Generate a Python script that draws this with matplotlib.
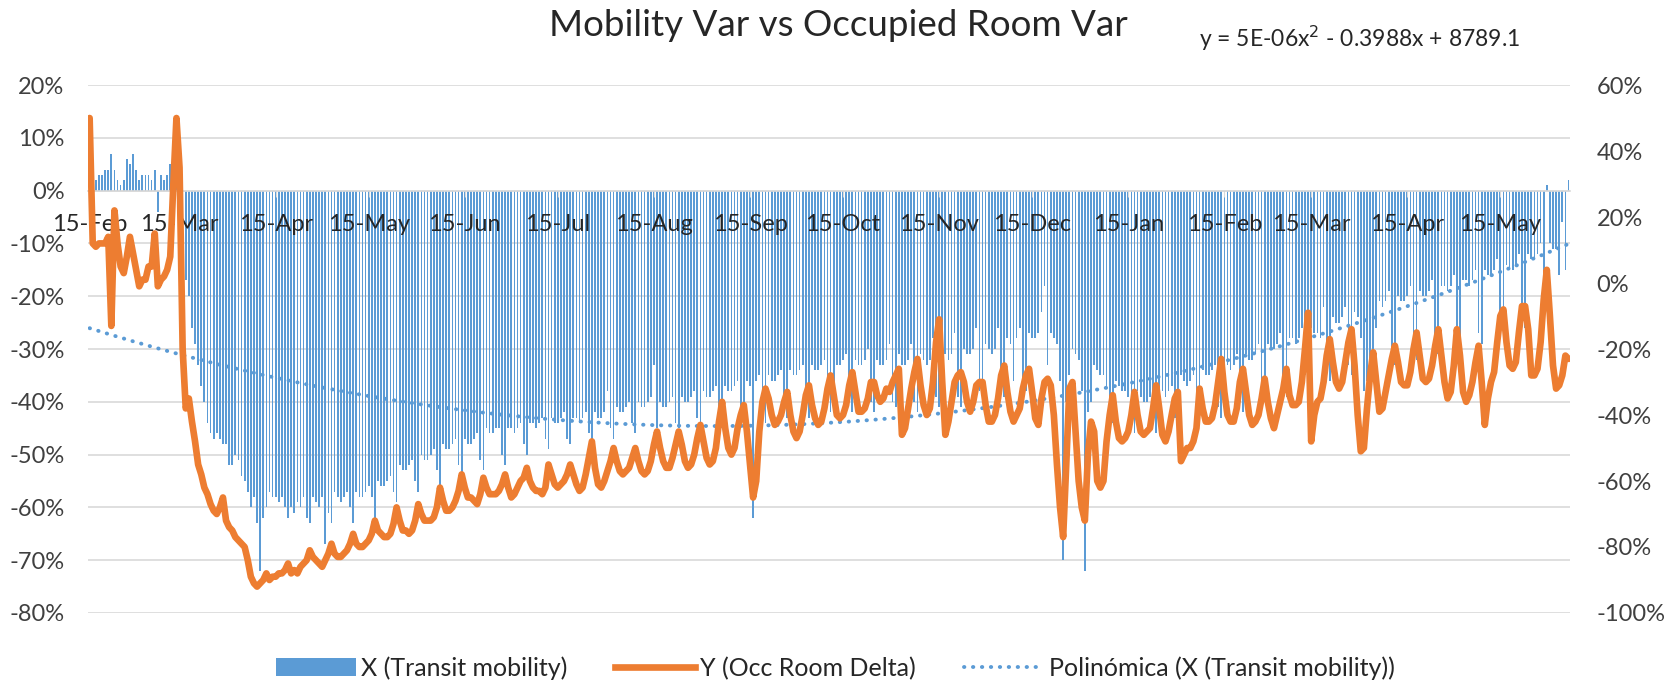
import matplotlib
matplotlib.use("Agg")
import matplotlib.pyplot as plt
import numpy as np
import pandas as pd
from matplotlib.patches import Patch
from matplotlib.lines import Line2D

plt.rcParams['font.family'] = ['Lato', 'DejaVu Sans']

# daily series, starting Saturday 15-Feb-2020 (one row = one week)
# X: transit mobility (% vs baseline), left axis
mobility = [
    [3, 5, 2, 3, 3, 4, 4], [7, 4, 2, 1, 2, 6, 5], [7, 4, 2, 3, 3, 3, 2], [4, -4, 3, 2, 3, 5, 4],
    [3, -2, -8, -17, -20, -26, -29], [-33, -37, -40, -44, -46, -47, -46],
    [-47, -48, -48, -52, -52, -50, -51], [-54, -55, -57, -60, -58, -63, -72],
    [-62, -60, -57, -58, -58, -59, -58], [-60, -62, -60, -61, -59, -60, -58],
    [-62, -63, -58, -59, -60, -58, -67], [-61, -63, -57, -58, -59, -58, -57],
    [-60, -63, -57, -58, -58, -57, -56], [-58, -62, -55, -56, -56, -55, -54],
    [-57, -59, -52, -53, -53, -52, -51], [-55, -57, -50, -51, -51, -50, -49],
    [-53, -56, -48, -49, -49, -48, -47], [-52, -55, -47, -48, -48, -47, -46],
    [-51, -53, -45, -46, -46, -45, -45], [-50, -52, -45, -45, -46, -45, -44],
    [-48, -50, -44, -44, -45, -44, -43], [-47, -49, -43, -44, -44, -43, -42],
    [-47, -48, -43, -43, -44, -43, -42], [-46, -48, -42, -43, -43, -42, -38],
    [-45, -47, -41, -42, -42, -41, -40], [-44, -46, -40, -41, -41, -40, -39],
    [-33, -45, -40, -41, -41, -40, -39], [-44, -45, -39, -40, -40, -39, -38],
    [-43, -45, -38, -39, -39, -38, -37], [-43, -45, -37, -38, -38, -37, -36],
    [-42, -44, -36, -37, -62, -36, -35], [-42, -44, -35, -36, -36, -35, -34],
    [-41, -43, -34, -35, -35, -34, -33], [-41, -43, -33, -34, -34, -33, -32],
    [-41, -42, -40, -33, -33, -32, -31], [-40, -42, -32, -33, -33, -32, -30],
    [-40, -42, -32, -33, -33, -32, -29], [-40, -41, -31, -33, -33, -32, -29],
    [-40, -42, -31, -32, -33, -32, -28], [-39, -41, -30, -31, -32, -31, -27],
    [-39, -41, -30, -31, -31, -30, -26], [-38, -40, -29, -30, -31, -30, -26],
    [-37, -39, -28, -29, -36, -28, -26], [-36, -38, -27, -28, -28, -27, -23],
    [-18, -33, -27, -28, -29, -36, -70], [-40, -35, -30, -31, -32, -38, -72],
    [-42, -40, -33, -34, -35, -35, -37], [-42, -44, -36, -37, -38, -38, -39],
    [-44, -46, -38, -39, -40, -40, -39], [-44, -46, -37, -38, -39, -38, -37],
    [-43, -45, -35, -36, -37, -36, -35], [-42, -44, -34, -35, -35, -34, -33],
    [-41, -43, -33, -33, -34, -33, -31], [-40, -42, -31, -32, -32, -31, -29],
    [-38, -40, -29, -30, -30, -29, -27], [-37, -39, -28, -28, -29, -28, -26],
    [-35, -37, -26, -27, -27, -28, -22], [-34, -36, -24, -25, -25, -24, -22],
    [-33, -35, -23, -24, -28, -38, -36], [-32, -34, -26, -21, -22, -21, -19],
    [-31, -33, -20, -21, -21, -20, -18], [-30, -32, -19, -20, -20, -19, -17],
    [-29, -31, -18, -18, -19, -18, -16], [-28, -30, -17, -17, -18, -17, -15],
    [-27, -29, -15, -16, -16, -15, -13], [-26, -28, -14, -15, -15, -14, -12],
    [-24, -26, -12, -13, -13, -12, -10], [-22, 1, -10, -11, -11, -16, -6],
    [-15, 2],
]

# Y: occupied room delta (%), right axis
occ_delta = [
    [50, 12, 11, 12, 12, 12, 14], [-13, 22, 12, 5, 3, 8, 14], [9, 4, -1, 1, 1, 5, 5],
    [15, -1, 1, 2, 4, 8, 30], [50, 35, -20, -38, -35, -42, -48],
    [-55, -58, -62, -64, -67, -69, -70], [-68, -65, -72, -74, -75, -77, -78],
    [-79, -80, -84, -89, -91, -92, -91], [-90, -88, -90, -89, -89, -88, -88],
    [-87, -85, -88, -87, -88, -86, -85], [-84, -81, -83, -84, -85, -86, -84],
    [-82, -79, -82, -83, -83, -82, -81], [-79, -76, -79, -80, -80, -79, -78],
    [-76, -72, -75, -76, -77, -77, -76], [-73, -68, -72, -75, -75, -76, -75],
    [-72, -67, -70, -72, -72, -72, -71], [-68, -62, -66, -69, -69, -68, -66],
    [-63, -58, -62, -65, -65, -66, -67], [-64, -59, -62, -64, -64, -64, -63],
    [-61, -58, -62, -65, -64, -62, -60], [-59, -56, -60, -62, -63, -63, -64],
    [-62, -55, -58, -61, -62, -61, -60], [-58, -55, -58, -61, -63, -62, -58],
    [-53, -48, -56, -61, -62, -60, -57], [-54, -50, -54, -57, -58, -57, -56],
    [-53, -50, -54, -57, -58, -57, -54], [-49, -45, -50, -54, -56, -56, -53],
    [-49, -45, -49, -54, -56, -55, -52], [-47, -43, -48, -53, -55, -54, -50],
    [-42, -36, -44, -50, -52, -50, -44], [-40, -37, -45, -55, -65, -60, -45],
    [-36, -32, -35, -40, -43, -42, -40], [-36, -33, -40, -45, -47, -45, -40],
    [-34, -31, -37, -41, -43, -42, -38], [-32, -28, -34, -40, -41, -40, -37],
    [-31, -27, -33, -39, -39, -38, -35], [-30, -30, -34, -36, -35, -32, -33],
    [-30, -28, -26, -46, -44, -38, -32], [-27, -23, -31, -37, -40, -38, -30],
    [-18, -11, -30, -46, -42, -36, -30], [-28, -27, -30, -36, -39, -36, -31],
    [-30, -30, -37, -42, -42, -40, -35], [-28, -25, -33, -39, -42, -40, -38],
    [-32, -28, -26, -33, -41, -43, -35], [-30, -29, -31, -40, -55, -68, -77],
    [-55, -32, -30, -45, -60, -68, -72], [-52, -42, -45, -60, -62, -60, -48],
    [-40, -34, -42, -47, -48, -47, -45], [-40, -33, -40, -45, -46, -45, -44],
    [-38, -31, -38, -46, -48, -45, -40], [-35, -33, -54, -52, -50, -50, -48],
    [-44, -32, -38, -42, -42, -41, -37], [-30, -23, -33, -40, -42, -42, -38],
    [-30, -26, -33, -40, -43, -42, -40], [-35, -29, -36, -41, -44, -40, -36],
    [-32, -26, -34, -37, -37, -36, -30], [-20, -9, -48, -40, -36, -35, -30],
    [-22, -17, -24, -30, -32, -30, -24], [-18, -14, -25, -40, -51, -50, -38],
    [-28, -21, -30, -39, -38, -33, -28], [-23, -19, -24, -30, -31, -31, -27],
    [-20, -15, -22, -29, -30, -29, -25], [-19, -14, -22, -30, -35, -33, -25],
    [-14, -22, -33, -36, -34, -30, -24], [-19, -30, -43, -35, -30, -27, -18],
    [-10, -8, -18, -25, -26, -24, -15], [-7, -7, -14, -28, -28, -26, -18],
    [-5, 4, -10, -25, -32, -31, -28], [-22, -23],
]

X = np.concatenate(mobility)
Y = np.concatenate(occ_delta)
days = np.arange(len(X))
dates = pd.date_range('2020-02-15', periods=len(X), freq='D')

blue = '#5B9BD5'
orange = '#ED7D31'
grid = '#D9D9D9'
txt = '#404040'
dotted = (0, (0.1, 2.2))

fig = plt.figure(figsize=(16.81, 6.83), dpi=100)
ax = fig.add_axes([0.0524, 0.1025, 0.8816, 0.7730])

ax.bar(days, X, width=0.55, color=blue, zorder=2)

# polynomial trendline (order 2) of X
coef = np.polyfit(days, X, 2)
ax.plot(days, np.polyval(coef, days), color=blue, lw=2.8,
        linestyle=dotted, dash_capstyle='round', zorder=3)

ax.set_xlim(-0.5, len(X) - 0.5)
ax.set_ylim(-80, 20)
ax.set_yticks(np.arange(-80, 21, 10))
ax.set_yticklabels([f'{v}%' for v in range(-80, 21, 10)])
ax.grid(axis='y', color=grid, lw=1.2, zorder=0)
ax.set_axisbelow(True)
for s in ax.spines.values():
    s.set_visible(False)
ax.spines['bottom'].set_visible(True)
ax.spines['bottom'].set_position(('data', 0))
ax.spines['bottom'].set_color(grid)
ax.spines['bottom'].set_linewidth(1.2)

ticks = days[dates.day == 15]
ax.set_xticks(ticks)
ax.set_xticklabels([d.strftime('%d-%b') for d in dates[dates.day == 15]])
ax.tick_params(axis='x', length=4, color=grid, pad=13, labelsize=17, labelcolor='#262626')
ax.tick_params(axis='y', length=0, pad=17, labelsize=17, labelcolor=txt)
ax.xaxis.set_zorder(5)  # date labels sit on top of the bars

ax2 = ax.twinx()
ax2.plot(days, Y, color=orange, lw=4.8, solid_joinstyle='round',
         solid_capstyle='round', zorder=4)
ax2.set_ylim(-100, 60)
ax2.set_yticks(np.arange(-100, 61, 20))
ax2.set_yticklabels([f'{v}%' for v in range(-100, 61, 20)])
ax2.tick_params(axis='y', length=0, pad=19, labelsize=17, labelcolor=txt)
for s in ax2.spines.values():
    s.set_visible(False)

fig.text(0.499, 1 - 26 / 683, 'Mobility Var vs Occupied Room Var',
         ha='center', va='center', fontsize=26.5, color='#262626')
fig.text(0.713, 1 - 38 / 683, 'y = 5E-06x$^2$ - 0.3988x + 8789.1',
         ha='left', va='center', fontsize=16.5, color='#262626')

handles = [
    Patch(facecolor=blue, edgecolor='none', label='X (Transit mobility)'),
    Line2D([], [], color=orange, lw=4.8, label='Y (Occ Room Delta)'),
    Line2D([], [], color=blue, lw=2.8, linestyle=dotted,
           dash_capstyle='round', label='Polinómica (X (Transit mobility))'),
]
fig.legend(handles=handles, loc='center', bbox_to_anchor=(0.497, 1 - 668 / 683),
           ncol=3, frameon=False, fontsize=18, handlelength=3.2,
           handletextpad=0.2, columnspacing=1.9, labelcolor='#262626')

fig.savefig('out.png', dpi=100)
